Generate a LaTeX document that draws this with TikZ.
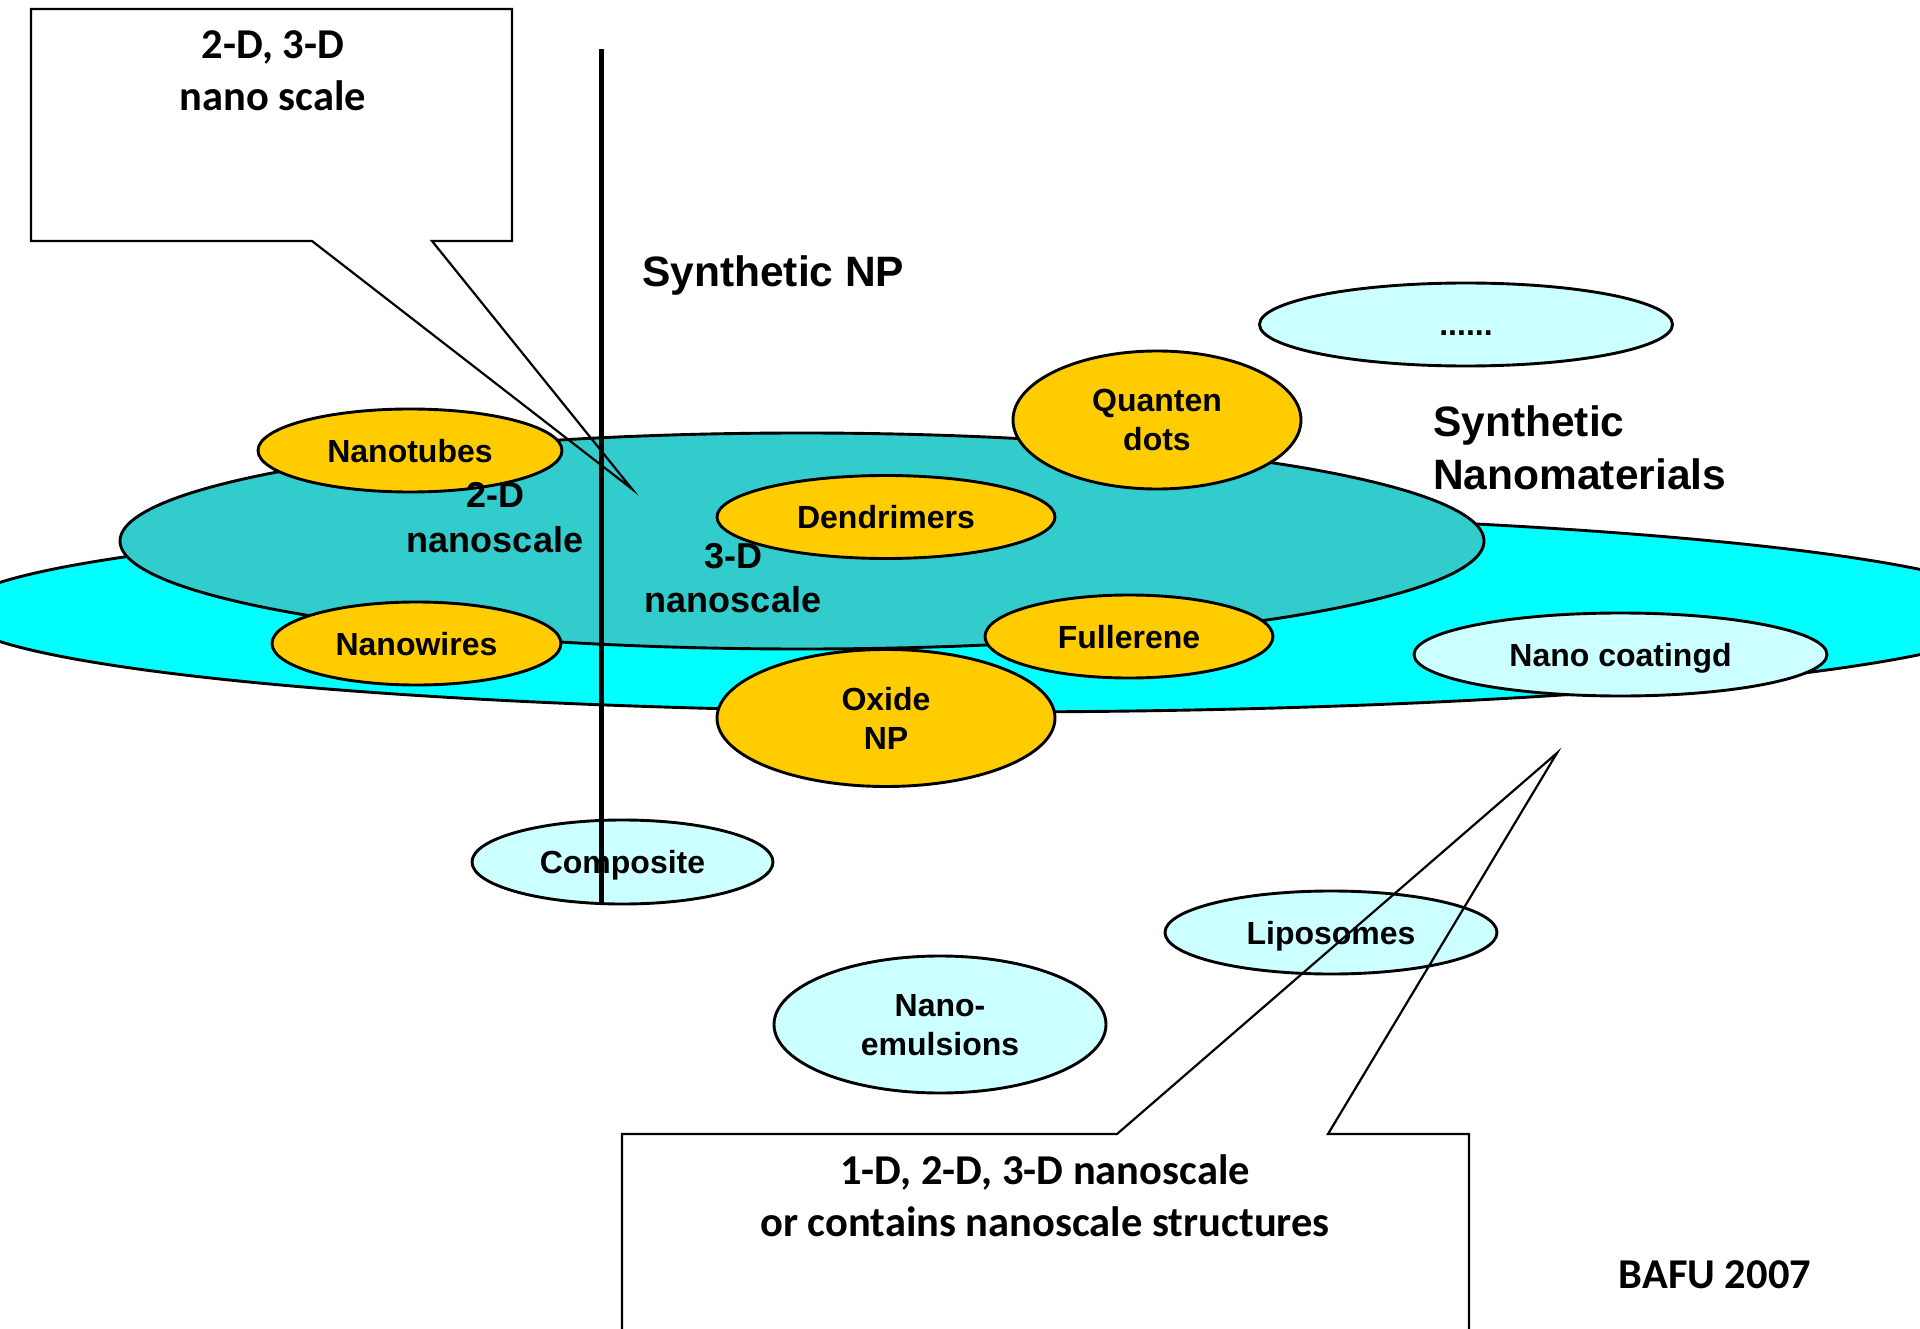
\documentclass[tikz,border=0pt]{standalone}
\usepackage{fontspec}
\setmainfont{Liberation Sans}
\newfontfamily\calfont{Carlito}
\usetikzlibrary{shapes.geometric}
\definecolor{bigcyan}{HTML}{00FFFF}
\definecolor{tealblob}{HTML}{33CCCC}
\definecolor{goldfill}{HTML}{FFCC00}
\definecolor{palefill}{HTML}{CCFFFF}
\begin{document}
\begin{tikzpicture}[x=1pt,y=-1pt,
  blob/.style={ellipse, draw=black, line width=2.9pt, inner sep=0pt, outer sep=0pt,
    align=center, text depth=0pt, font=\bfseries\fontsize{32}{39}\selectfont},
  goldblob/.style={blob, fill=goldfill},
  paleblob/.style={blob, fill=palefill},
  dimlabel/.style={inner sep=0pt, align=center, font=\bfseries\fontsize{36}{44.5}\selectfont},
  bigtext/.style={inner sep=0pt, font=\bfseries\fontsize{42.5}{53}\selectfont},
  callout/.style={draw=black, line width=2.2pt, line join=miter},
  caltext/.style={inner sep=0pt, align=center, font=\calfont\bfseries\fontsize{42.5}{52}\selectfont}
]
\clip (0,0) rectangle (1920,1329);
\fill[white] (0,0) rectangle (1920,1329);

% large ellipses
\node[blob, fill=bigcyan, minimum width=2064pt, minimum height=200pt] (synm) at (986,612) {};
\node[blob, fill=tealblob, minimum width=1364pt, minimum height=216pt] (np3d) at (802,541) {};

% gold ellipses
\node[goldblob, minimum width=304pt, minimum height=83pt] (tubes) at (410,450.5) {Nanotubes};
\node[goldblob, minimum width=289pt, minimum height=83pt] (wires) at (416.5,643.5) {Nanowires};
\node[goldblob, minimum width=338pt, minimum height=83pt] (dend) at (886,517) {Dendrimers};
\node[goldblob, minimum width=338pt, minimum height=137pt] (oxide) at (886,718) {Oxide\\NP};
\node[goldblob, minimum width=288pt, minimum height=83pt] (fuller) at (1129,636.5) {Fullerene};
\node[goldblob, minimum width=288pt, minimum height=138pt] (qdots) at (1157,420) {Quanten\\dots};

% pale ellipses
\node[paleblob, minimum width=413pt, minimum height=83pt, text height=23pt] (more) at (1466,324.5) {......};
\node[paleblob, minimum width=413pt, minimum height=83pt] (coat) at (1620.5,654.5) {Nano coatingd};
\node[paleblob, minimum width=301pt, minimum height=84pt] (comp) at (622.5,862) {Composite};
\node[paleblob, minimum width=332pt, minimum height=83pt] (lipo) at (1331,932.5) {Liposomes};
\node[paleblob, minimum width=332pt, minimum height=137pt] (emul) at (940,1024.5) {Nano-\\emulsions};

% free labels
\node[dimlabel] (lbltwo) at (495,517.6) {2-D\\nanoscale};
\node[dimlabel] (lblthree) at (733,578) {3-D\\nanoscale};
\node[bigtext, anchor=base west] (synnp) at (642,287) {Synthetic NP};
\node[bigtext, anchor=west, align=left] (synnano) at (1433,448.3) {Synthetic\\Nanomaterials};

% top callout
\coordinate (tipA) at (632,489);
\draw[callout] (31,9) -- (512,9) -- (512,241) -- (432,241) -- (tipA) -- (312,241) -- (31,241) -- cycle;
\node[caltext] (calltop) at (273,71) {2-D, 3-D\\nano scale};

% bottom callout
\coordinate (tipB) at (1557,753);
\draw[callout] (622,1400) -- (622,1134) -- (1117,1134) -- (tipB) -- (1328,1134) -- (1469,1134) -- (1469,1400);
\node[caltext] (callbot) at (1045,1196) {1-D, 2-D, 3-D nanoscale\\or contains nanoscale structures};

\node[inner sep=0pt, anchor=base, font=\calfont\bfseries\fontsize{42.5}{50}\selectfont] (bafu) at (1715,1288) {BAFU 2007};

% vertical divider
\coordinate (vtop) at (601,49);
\coordinate (vbot) at (601,905);
\draw[line width=5pt] (vtop) -- (vbot);
\end{tikzpicture}
\end{document}
